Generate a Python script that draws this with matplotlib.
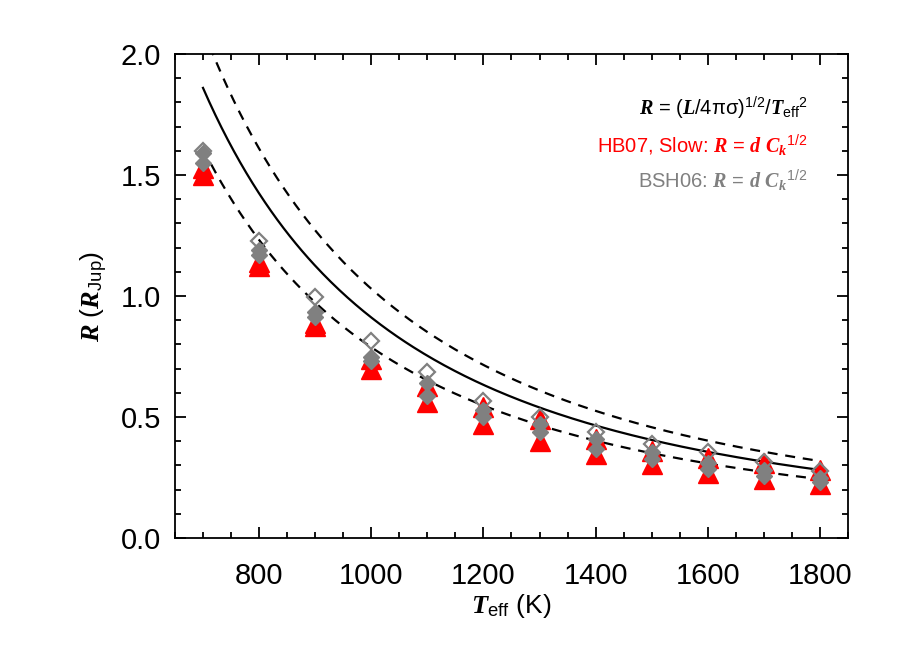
import numpy as np
import matplotlib
matplotlib.use("Agg")
import matplotlib.pyplot as plt
from matplotlib.ticker import MultipleLocator

# effective temperatures of the model points (K)
teff = [700, 800, 900, 1000, 1100, 1200, 1300, 1400, 1500, 1600, 1700, 1800]

# HB07 slow models, R = d C_k^1/2 (R_Jup), two gravities
hb07_hi = [1.53, 1.14, 0.89, 0.74, 0.628, 0.54, 0.49, 0.409, 0.36, 0.33, 0.31, 0.28]
hb07_lo = [1.50, 1.124, 0.876, 0.698, 0.562, 0.47, 0.40, 0.347, 0.306, 0.27, 0.245, 0.223]

# BSH06 models, R = d C_k^1/2 (R_Jup)
bsh06_open = [1.60, 1.227, 0.996, 0.814, 0.686, 0.566, 0.50, 0.438, 0.388, 0.355, 0.314, 0.277]
bsh06_hi = [1.59, 1.19, 0.934, 0.748, 0.64, 0.53, 0.47, 0.41, 0.355, 0.31, 0.28, 0.25]
bsh06_lo = [1.55, 1.17, 0.913, 0.731, 0.587, 0.50, 0.438, 0.368, 0.326, 0.285, 0.256, 0.231]

# R = (L/4 pi sigma)^1/2 / Teff^2, normalised at 700 K, with luminosity range
r_at_700 = 1.86
lum_factor = [1.13, 0.865]

def main():
    plt.rcParams["font.family"] = ["Liberation Sans", "DejaVu Sans"]
    plt.rcParams["mathtext.fontset"] = "custom"
    plt.rcParams["mathtext.rm"] = "Liberation Sans"
    plt.rcParams["mathtext.it"] = "Liberation Serif:italic:bold"
    plt.rcParams["mathtext.bf"] = "Liberation Serif:bold"
    plt.rcParams["mathtext.bfit"] = "Liberation Serif:italic:bold"

    fig = plt.figure(figsize=(9, 6.5), dpi=100)
    ax = fig.add_axes([0.1944, 0.1723, 0.7478, 0.7446])

    tt = np.linspace(700, 1800, 300)
    rr = r_at_700 * (700.0 / tt) ** 2
    ax.plot(tt, rr, color="black", lw=1.6, zorder=3)
    for f in lum_factor:
        ax.plot(tt, f * rr, color="black", lw=1.6, ls=(0, (4.5, 3.5)), zorder=3)

    red = "#ff0000"
    gray = "#808080"
    ax.plot(teff, hb07_hi, ls="none", marker="^", ms=14, color=red, mec=red, zorder=4)
    ax.plot(teff, hb07_lo, ls="none", marker="^", ms=14, color=red, mec=red, zorder=4)
    ax.plot(teff, bsh06_hi, ls="none", marker="D", ms=8, color=gray, mec=gray, zorder=5)
    ax.plot(teff, bsh06_lo, ls="none", marker="D", ms=8, color=gray, mec=gray, zorder=5)
    ax.plot(teff, bsh06_open, ls="none", marker="D", ms=8, mfc="none", mec=gray, mew=1.6, zorder=6)

    ax.set_xlim(650, 1850)
    ax.set_ylim(0, 2.0)
    ax.xaxis.set_major_locator(MultipleLocator(200))
    ax.xaxis.set_minor_locator(MultipleLocator(50))
    ax.yaxis.set_major_locator(MultipleLocator(0.5))
    ax.yaxis.set_minor_locator(MultipleLocator(0.1))
    ax.yaxis.set_major_formatter(matplotlib.ticker.FormatStrFormatter("%.1f"))
    ax.tick_params(which="both", direction="in", top=True, right=True, width=1.3, labelsize=21)
    ax.tick_params(which="major", length=8)
    ax.tick_params(axis="x", which="major", pad=17)
    ax.tick_params(axis="y", which="major", pad=10)
    ax.tick_params(which="minor", length=4)
    for s in ax.spines.values():
        s.set_linewidth(1.3)

    ax.set_xlabel(r"$\mathbfit{T}_{\rm eff}$ (K)", fontsize=19, labelpad=2)
    ax.set_ylabel(r"$\mathbfit{R}$ ($\mathbfit{R}_{\rm Jup}$)", fontsize=19, labelpad=8)

    ax.text(0.94, 0.89, r"$\mathbfit{R}$ = ($\mathbfit{L}$/4πσ)$^{1/2}$/$\mathbfit{T}_{\rm eff}$$^{2}$",
            transform=ax.transAxes, ha="right", va="center", fontsize=14.5, color="black")
    ax.text(0.94, 0.812, r"HB07, Slow: $\mathbfit{R}$ = $\mathbfit{d}$ $\mathbfit{C}_{\mathbfit{k}}$$^{1/2}$",
            transform=ax.transAxes, ha="right", va="center", fontsize=14.5, color=red)
    ax.text(0.94, 0.74, r"BSH06: $\mathbfit{R}$ = $\mathbfit{d}$ $\mathbfit{C}_{\mathbfit{k}}$$^{1/2}$",
            transform=ax.transAxes, ha="right", va="center", fontsize=14.5, color=gray)

    fig.savefig("out.png", dpi=100)
    plt.close()

if __name__ == "__main__":
    main()
